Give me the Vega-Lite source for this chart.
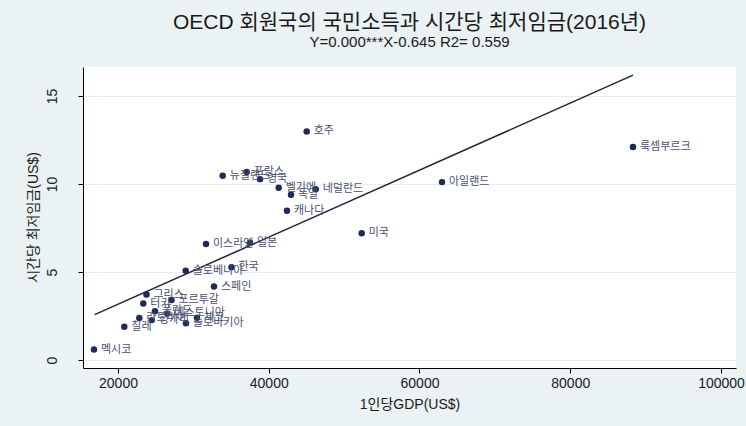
{
  "$schema": "https://vega.github.io/schema/vega-lite/v6.json",
  "width": 653,
  "height": 301,
  "autosize": {"type": "none"},
  "padding": {"left": 83, "top": 67, "right": 10, "bottom": 58},
  "background": "#EAF2F3",
  "view": {"fill": "white", "stroke": null},
  "title": {
    "text": "OECD 회원국의 국민소득과 시간당 최저임금(2016년)",
    "subtitle": "Y=0.000***X-0.645 R2= 0.559",
    "anchor": "middle",
    "frame": "group",
    "font": "Liberation Sans, Noto Sans CJK KR",
    "fontSize": 21,
    "fontWeight": "normal",
    "color": "#1a1a1a",
    "subtitleFont": "Liberation Sans, Noto Sans CJK KR",
    "subtitleFontSize": 15,
    "subtitleColor": "#1a1a1a",
    "subtitlePadding": 2,
    "offset": 17
  },
  "datasets": {
    "countries": [
      {"country": "룩셈부르크", "gdp": 88325, "wage": 12.10},
      {"country": "아일랜드", "gdp": 62985, "wage": 10.11},
      {"country": "호주", "gdp": 45035, "wage": 12.99},
      {"country": "미국", "gdp": 52331, "wage": 7.20},
      {"country": "프랑스", "gdp": 37074, "wage": 10.68},
      {"country": "뉴질랜드", "gdp": 33890, "wage": 10.47},
      {"country": "영국", "gdp": 38839, "wage": 10.28},
      {"country": "벨기에", "gdp": 41320, "wage": 9.79},
      {"country": "네덜란드", "gdp": 46229, "wage": 9.70},
      {"country": "독일", "gdp": 42952, "wage": 9.39},
      {"country": "캐나다", "gdp": 42421, "wage": 8.48},
      {"country": "이스라엘", "gdp": 31675, "wage": 6.59},
      {"country": "일본", "gdp": 37512, "wage": 6.66},
      {"country": "슬로베니아", "gdp": 28982, "wage": 5.07},
      {"country": "한국", "gdp": 35058, "wage": 5.28},
      {"country": "스페인", "gdp": 32736, "wage": 4.18},
      {"country": "그리스", "gdp": 23781, "wage": 3.72},
      {"country": "포르투갈", "gdp": 27098, "wage": 3.41},
      {"country": "터키", "gdp": 23357, "wage": 3.21},
      {"country": "폴란드", "gdp": 24909, "wage": 2.78},
      {"country": "에스토니아", "gdp": 26541, "wage": 2.65},
      {"country": "라트비아", "gdp": 22826, "wage": 2.39},
      {"country": "헝가리", "gdp": 24471, "wage": 2.27},
      {"country": "체코", "gdp": 30481, "wage": 2.41},
      {"country": "슬로바키아", "gdp": 29022, "wage": 2.09},
      {"country": "칠레", "gdp": 20836, "wage": 1.89},
      {"country": "멕시코", "gdp": 16816, "wage": 0.60}
    ],
    "fit": [
      {"gdp": 16900, "wage": 2.58},
      {"gdp": 88325, "wage": 16.19}
    ]
  },
  "layer": [
    {
      "data": {"name": "fit"},
      "mark": {"type": "line", "color": "#1c2436", "strokeWidth": 1.5},
      "encoding": {
        "x": {
          "field": "gdp", "type": "quantitative",
          "scale": {"domain": [15357, 101990], "nice": false, "zero": false},
          "axis": {
            "values": [20000, 40000, 60000, 80000, 100000],
            "format": "d",
            "grid": false,
            "title": "1인당GDP(US$)",
            "titleFont": "Liberation Sans, Noto Sans CJK KR",
            "titleFontSize": 14,
            "titleFontWeight": "normal",
            "titleColor": "#1a1a1a",
            "titleBaseline": "middle",
            "titleY": 36,
            "labelFont": "Liberation Sans",
            "labelFontSize": 14,
            "labelColor": "#1a1a1a",
            "labelPadding": 3,
            "labelFlush": false,
            "domainColor": "#000000",
            "domainWidth": 1,
            "tickColor": "#000000",
            "tickSize": 5
          }
        },
        "y": {
          "field": "wage", "type": "quantitative",
          "scale": {"domain": [-0.45, 16.65], "nice": false, "zero": false},
          "axis": {
            "values": [0, 5, 10, 15],
            "grid": true,
            "gridColor": "#E4EEF0",
            "gridWidth": 1,
            "title": "시간당 최저임금(US$)",
            "titleFont": "Liberation Sans, Noto Sans CJK KR",
            "titleFontSize": 14,
            "titleFontWeight": "normal",
            "titleColor": "#1a1a1a",
            "titleAngle": 270,
            "titleAlign": "center",
            "titleBaseline": "middle",
            "titleX": -50,
            "titleY": 150,
            "labelFont": "Liberation Sans",
            "labelFontSize": 14,
            "labelColor": "#1a1a1a",
            "labelAngle": 270,
            "labelAlign": "center",
            "labelBaseline": "alphabetic",
            "labelPadding": 22,
            "labelFlush": false,
            "domainColor": "#000000",
            "domainWidth": 1,
            "tickColor": "#000000",
            "tickSize": 5
          }
        }
      }
    },
    {
      "data": {"name": "countries"},
      "mark": {"type": "circle", "size": 42, "color": "#1e2a58", "opacity": 1},
      "encoding": {
        "x": {"field": "gdp", "type": "quantitative"},
        "y": {"field": "wage", "type": "quantitative"}
      }
    },
    {
      "data": {"name": "countries"},
      "mark": {"type": "text", "align": "left", "baseline": "middle", "dx": 7, "fontSize": 11, "font": "Noto Sans CJK KR", "color": "#4a5070"},
      "encoding": {
        "x": {"field": "gdp", "type": "quantitative"},
        "y": {"field": "wage", "type": "quantitative"},
        "text": {"field": "country"}
      }
    }
  ]
}
